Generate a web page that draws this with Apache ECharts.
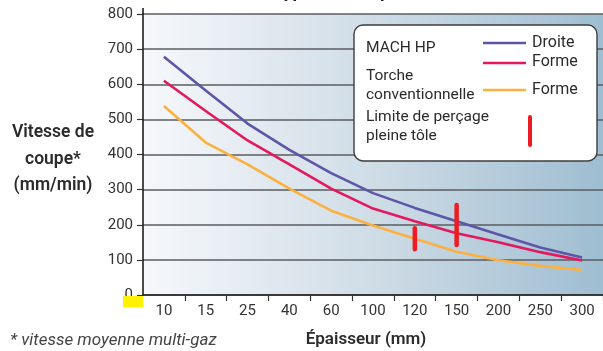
<!DOCTYPE html>
<html>
<head>
<meta charset="utf-8">
<script src="https://cdn.jsdelivr.net/npm/echarts@6/dist/echarts.min.js"></script>
<style>
  html, body { margin: 0; padding: 0; background: #ffffff; }
  #chart { width: 603px; height: 351px; }
</style>
</head>
<body>
<div id="chart"></div>
<script>
// Plate thickness (mm)
const thickness = ['10', '15', '25', '40', '60', '100', '120', '150', '200', '250', '300'];
// Cutting speed (mm/min)
const machHpDroite = [678, 582, 488, 413, 347, 290, 248, 210, 172, 135, 107];
const machHpForme = [610, 524, 440, 372, 303, 246, 210, 176, 150, 122, 98];
const conventionnelleForme = [538, 434, 372, 303, 240, 198, 160, 123, 99, 83, 71];
// Full-plate piercing limit: thickness and speed range of each bar
const piercingThickness = ['120', '150'];
const piercingLow = [130, 142];
const piercingHigh = [190, 256];
const speedTicks = [0, 100, 200, 300, 400, 500, 600, 700, 800];

const FONT = 'Roboto, "Noto Sans", sans-serif';
const TEXT = '#2b2b2b';
const BLUE = '#5b56a8';
const CRIMSON = '#e6175c';
const ORANGE = '#fbb040';
const MARK = '#ed1c24';

const chart = echarts.init(document.getElementById('chart'), null, { renderer: 'canvas' });

const lineSeries = (name, data, color) => ({
  name, type: 'line', data, symbol: 'none', smooth: false,
  lineStyle: { color, width: 2.6 }, z: 3, silent: true
});

const option = {
  animation: false,
  grid: { left: 143, right: -3, top: 14, bottom: 56, containLabel: false },
  xAxis: {
    type: 'category',
    data: thickness,
    boundaryGap: true,
    axisLine: { show: true, lineStyle: { color: '#222', width: 1.5 } },
    axisTick: { show: true, length: 6, alignWithLabel: false, interval: (i) => i > 0,
                lineStyle: { color: '#333', width: 1.2 } },
    axisLabel: { color: '#333', fontSize: 15, fontFamily: FONT, margin: 9 },
    splitLine: { show: false }
  },
  yAxis: {
    type: 'value',
    min: speedTicks[0],
    max: speedTicks[speedTicks.length - 1],
    interval: speedTicks[1] - speedTicks[0],
    axisLine: { show: true, lineStyle: { color: '#111', width: 1.5 } },
    axisTick: { show: true, inside: false, length: 6, lineStyle: { color: '#333', width: 1.2 } },
    axisLabel: { color: '#333', fontSize: 15, fontFamily: FONT, margin: 10 },
    splitLine: { show: true, lineStyle: { color: '#5a5d60', width: 1.6 } },
    splitArea: { show: false }
  },
  series: [
    lineSeries('MACH HP Droite', machHpDroite, BLUE),
    lineSeries('MACH HP Forme', machHpForme, CRIMSON),
    lineSeries('Torche conventionnelle Forme', conventionnelleForme, ORANGE),
    {
      name: 'Limite de perçage pleine tôle',
      type: 'custom',
      z: 5,
      silent: true,
      data: piercingThickness.map((t, i) => [t, piercingLow[i], piercingHigh[i]]),
      renderItem: (params, api) => {
        const p0 = api.coord([api.value(0), api.value(1)]);
        const p1 = api.coord([api.value(0), api.value(2)]);
        return {
          type: 'line',
          shape: { x1: p0[0], y1: p0[1], x2: p1[0], y2: p1[1] },
          style: { stroke: MARK, lineWidth: 4.5, lineCap: 'round' }
        };
      },
      encode: { x: 0, y: [1, 2] }
    }
  ],
  graphic: [
    // plot background gradient
    {
      type: 'rect', z: -10, silent: true,
      shape: { x: 143, y: 14, width: 463, height: 281 },
      style: {
        fill: new echarts.graphic.LinearGradient(0, 0, 1, 0, [
          { offset: 0, color: '#f6f8fb' },
          { offset: 0.5, color: '#cfdce6' },
          { offset: 1, color: '#9ebdd1' }
        ])
      }
    },
    // axis extends above the top gridline
    { type: 'line', z: 10, silent: true, shape: { x1: 143, y1: 8, x2: 143, y2: 14 },
      style: { stroke: '#111', lineWidth: 1.5 } },
    // clipped title
    { type: 'text', z: 10, silent: true, left: 'center', top: -17,
      style: { text: 'Vitesses types de coupe', fill: '#222', font: 'bold 18px ' + FONT } },
    // y axis title
    { type: 'text', z: 10, silent: true, style: { text: 'Vitesse de', x: 53, y: 133, align: 'center', verticalAlign: 'middle', fill: TEXT, font: '600 17.5px ' + FONT } },
    { type: 'text', z: 10, silent: true, style: { text: 'coupe*', x: 53, y: 160, align: 'center', verticalAlign: 'middle', fill: TEXT, font: '600 17.5px ' + FONT } },
    { type: 'text', z: 10, silent: true, style: { text: '(mm/min)', x: 53, y: 186, align: 'center', verticalAlign: 'middle', fill: TEXT, font: '600 17.5px ' + FONT } },
    // x axis title
    { type: 'text', z: 10, silent: true, style: { text: 'Épaisseur (mm)', x: 366, y: 340, align: 'center', verticalAlign: 'middle', fill: TEXT, font: '600 17px ' + FONT } },
    // footnote
    { type: 'text', z: 10, silent: true, style: { text: '* vitesse moyenne multi-gaz', x: 10, y: 341, align: 'left', verticalAlign: 'middle', fill: '#444', font: 'italic 17px ' + FONT } },
    // yellow marker over the origin
    { type: 'rect', z: 20, silent: true, shape: { x: 123, y: 296, width: 20, height: 11 }, style: { fill: '#fff200' } },
    // legend panel
    { type: 'rect', z: 30, silent: true, shape: { x: 354, y: 25, width: 243, height: 136, r: 9 },
      style: { fill: '#ffffff', stroke: '#3c3c3c', lineWidth: 1.4 } },
    { type: 'text', z: 31, silent: true, style: { text: 'MACH HP', x: 366, y: 48, verticalAlign: 'middle', fill: TEXT, font: '15.5px ' + FONT } },
    { type: 'text', z: 31, silent: true, style: { text: 'Torche', x: 366, y: 76, verticalAlign: 'middle', fill: TEXT, font: '15.5px ' + FONT } },
    { type: 'text', z: 31, silent: true, style: { text: 'conventionnelle', x: 366, y: 95, verticalAlign: 'middle', fill: TEXT, font: '15.5px ' + FONT } },
    { type: 'text', z: 31, silent: true, style: { text: 'Limite de perçage', x: 366, y: 117, verticalAlign: 'middle', fill: TEXT, font: '15.5px ' + FONT } },
    { type: 'text', z: 31, silent: true, style: { text: 'pleine tôle', x: 366, y: 136, verticalAlign: 'middle', fill: TEXT, font: '15.5px ' + FONT } },
    { type: 'line', z: 31, silent: true, shape: { x1: 483, y1: 43, x2: 526, y2: 43 }, style: { stroke: BLUE, lineWidth: 2.6 } },
    { type: 'line', z: 31, silent: true, shape: { x1: 483, y1: 63, x2: 526, y2: 63 }, style: { stroke: CRIMSON, lineWidth: 2.6 } },
    { type: 'line', z: 31, silent: true, shape: { x1: 483, y1: 90, x2: 526, y2: 90 }, style: { stroke: ORANGE, lineWidth: 2.6 } },
    { type: 'text', z: 31, silent: true, style: { text: 'Droite', x: 532, y: 43, verticalAlign: 'middle', fill: TEXT, font: '16px ' + FONT } },
    { type: 'text', z: 31, silent: true, style: { text: 'Forme', x: 532, y: 62, verticalAlign: 'middle', fill: TEXT, font: '16px ' + FONT } },
    { type: 'text', z: 31, silent: true, style: { text: 'Forme', x: 532, y: 90, verticalAlign: 'middle', fill: TEXT, font: '16px ' + FONT } },
    { type: 'line', z: 31, silent: true, shape: { x1: 530, y1: 117, x2: 530, y2: 145 }, style: { stroke: MARK, lineWidth: 4, lineCap: 'round' } }
  ]
};

chart.setOption(option);
</script>
</body>
</html>
